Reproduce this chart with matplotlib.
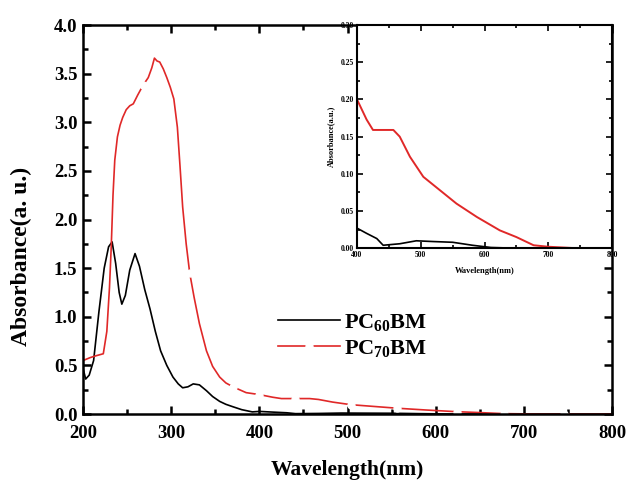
import numpy as np
import matplotlib
matplotlib.use("Agg")
import matplotlib.pyplot as plt
from matplotlib.ticker import MultipleLocator

plt.rcParams['font.family'] = ['Liberation Serif', 'DejaVu Serif']
plt.rcParams['font.weight'] = 'bold'
plt.rcParams['mathtext.fontset'] = 'custom'
plt.rcParams['mathtext.rm'] = 'Liberation Serif:bold'
plt.rcParams['mathtext.it'] = 'Liberation Serif:bold'
plt.rcParams['mathtext.bf'] = 'Liberation Serif:bold'

# PC60BM spectrum
wl60 = [200, 203, 207, 212, 218, 224, 229, 233, 237, 241, 244, 248, 253, 259, 264,
        270, 276, 282, 288, 295, 302, 308, 313, 319, 325, 332, 340, 347, 355, 362,
        370, 380, 392, 400, 415, 431, 441, 467, 493, 519, 550, 581, 610, 650, 700, 800]
ab60 = [0.47, 0.36, 0.40, 0.55, 1.05, 1.50, 1.72, 1.77, 1.55, 1.25, 1.13, 1.22, 1.48,
        1.65, 1.52, 1.28, 1.08, 0.85, 0.65, 0.50, 0.38, 0.31, 0.27, 0.28, 0.31, 0.30,
        0.24, 0.18, 0.13, 0.10, 0.075, 0.045, 0.022, 0.027, 0.020, 0.013, 0.004, 0.006,
        0.010, 0.009, 0.008, 0.004, 0.001, 0.0, 0.0, 0.0]

# PC70BM spectrum
wl70 = [200, 208, 215, 223, 227, 230, 232, 234, 236, 239, 242, 245, 249, 253, 257,
        262, 268, 274, 278, 281, 284, 287, 291, 295, 299, 303, 307, 310, 313, 317,
        321, 326, 332, 340, 347, 355, 362, 370, 385, 400, 415, 425, 440, 457, 467,
        483, 504, 530, 556, 588, 624, 650, 677, 700, 745, 800]
ab70 = [0.55, 0.58, 0.60, 0.62, 0.85, 1.30, 1.72, 2.25, 2.61, 2.85, 2.97, 3.05, 3.13,
        3.17, 3.19, 3.28, 3.38, 3.46, 3.56, 3.66, 3.63, 3.62, 3.55, 3.46, 3.36, 3.24,
        2.95, 2.55, 2.13, 1.75, 1.45, 1.20, 0.93, 0.65, 0.49, 0.38, 0.32, 0.28, 0.22,
        0.20, 0.173, 0.159, 0.159, 0.159, 0.150, 0.123, 0.096, 0.078, 0.060, 0.042,
        0.024, 0.015, 0.004, 0.002, 0.0, 0.0]
marker_wl70 = [268, 321, 370, 400, 440, 504, 556, 624, 677, 745]

red = '#e02828'
mk70 = [i for i, w in enumerate(wl70) if w in marker_wl70]

fig = plt.figure(figsize=(6.29, 4.82), dpi=100)
ax = fig.add_axes([0.132, 0.141, 0.841, 0.807])

ax.plot(wl60, ab60, color='black', lw=1.2, label=r'PC$_{60}$BM')
ax.plot(wl70, ab70, color=red, lw=1.2, marker='o', markersize=5,
        markerfacecolor='white', markeredgecolor='white', markevery=mk70,
        label=r'PC$_{70}$BM')

ax.set_xlim(200, 800)
ax.set_ylim(0, 4.0)
ax.xaxis.set_major_locator(MultipleLocator(100))
ax.xaxis.set_minor_locator(MultipleLocator(50))
ax.yaxis.set_major_locator(MultipleLocator(0.5))
ax.yaxis.set_minor_locator(MultipleLocator(0.25))
ax.tick_params(which='both', direction='in', top=True, right=True, width=1.8)
ax.tick_params(which='major', length=6, labelsize=13.5)
ax.tick_params(axis='x', which='major', pad=8)
ax.tick_params(axis='y', which='major', pad=4)
ax.tick_params(which='minor', length=3.5)
ax.yaxis.set_major_formatter(matplotlib.ticker.FormatStrFormatter('%.1f'))
for s in ax.spines.values():
    s.set_linewidth(1.8)
ax.set_xlabel('Wavelength(nm)', fontsize=15.5, fontweight='bold')
ax.set_ylabel('Absorbance(a. u.)', fontsize=17, fontweight='bold')
ax.xaxis.set_label_coords(0.499, -0.118)
ax.yaxis.set_label_coords(-0.096, 0.404)

leg = ax.legend(loc='upper left', bbox_to_anchor=(0.33, 0.315), frameon=False,
                fontsize=16, handlelength=2.8, handletextpad=0.2,
                labelspacing=0.25, numpoints=1)
for t in leg.get_texts():
    t.set_fontweight('bold')

# inset
ins = fig.add_axes([0.5676, 0.485, 0.4054, 0.463])
ins.plot(wl60, ab60, color='black', lw=1.2)
ins.plot(wl70, ab70, color=red, lw=1.4)
ins.set_xlim(400, 800)
ins.set_ylim(0, 0.30)
ins.xaxis.set_major_locator(MultipleLocator(100))
ins.xaxis.set_minor_locator(MultipleLocator(50))
ins.yaxis.set_major_locator(MultipleLocator(0.05))
ins.yaxis.set_minor_locator(MultipleLocator(0.025))
ins.tick_params(which='both', direction='in', top=True, right=True, width=1.2)
ins.tick_params(which='major', length=4, labelsize=5.5, pad=2)
ins.tick_params(which='minor', length=2.5)
ins.yaxis.set_major_formatter(matplotlib.ticker.FormatStrFormatter('%.2f'))
for s in ins.spines.values():
    s.set_linewidth(1.5)
ins.set_xlabel('Wavelength(nm)', fontsize=6, fontweight='bold', labelpad=6)
ins.set_ylabel('Absorbance(a.u.)', fontsize=6, fontweight='bold', labelpad=4)

fig.savefig('out.png', dpi=100)
